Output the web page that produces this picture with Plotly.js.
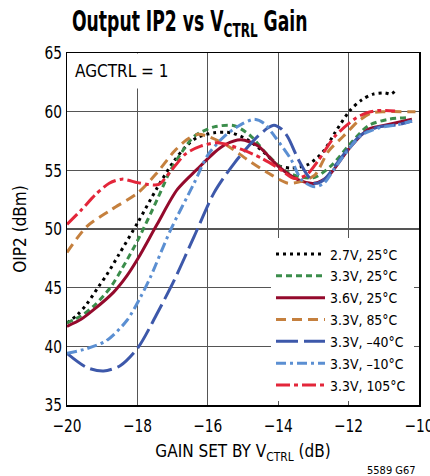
<!DOCTYPE html>
<html>
<head>
<meta charset="utf-8">
<script src="https://cdn.plot.ly/plotly-3.0.1.min.js"></script>
<style>
html,body{margin:0;padding:0;background:#fff;}
#chart{width:430px;height:476px;}
</style>
</head>
<body>
<div id="chart"></div>
<script>
// ---- Data ----
const seriesNames = ["2.7V, 25°C", "3.3V, 25°C", "3.6V, 25°C", "3.3V, 85°C", "3.3V, –40°C", "3.3V, –10°C", "3.3V, 105°C"];

const x27_25 = [-20, -19.7, -19.44, -19.1, -18.87, -18.53, -17.98, -17.44, -16.96, -16.6, -16.3, -15.82, -15.34, -14.87, -14.39, -14.0, -13.6, -13.15, -12.72, -12.39, -11.96, -11.63, -11.3, -10.97, -10.8, -10.66];
const y27_25 = [42.0, 42.7, 43.6, 45.1, 46.1, 47.8, 50.6, 53.5, 55.8, 57.1, 57.8, 58.2, 58.2, 57.6, 56.5, 55.4, 55.2, 55.5, 56.6, 58.2, 60.1, 61.0, 61.5, 61.6, 61.5, 61.8];

const x33_25 = [-20, -19.6, -19.25, -18.77, -18.44, -17.98, -17.44, -17.06, -16.68, -16.39, -15.82, -15.25, -14.77, -14.3, -13.72, -13.3, -12.96, -12.49, -12.0, -11.44, -10.87, -10.3];
const y33_25 = [42.0, 42.6, 43.4, 45.0, 46.6, 49.1, 52.5, 55.0, 56.8, 57.9, 58.7, 58.8, 57.9, 56.3, 54.8, 54.4, 54.4, 55.4, 57.1, 58.8, 59.35, 59.5];

const x36_25 = [-20, -19.6, -19.25, -18.68, -18.3, -17.98, -17.44, -16.87, -16.3, -15.82, -15.5, -15.06, -14.58, -14.0, -13.44, -12.96, -12.58, -12.0, -11.44, -10.87, -10.2];
const y36_25 = [41.7, 42.3, 43.1, 44.6, 46.0, 47.5, 50.4, 53.35, 55.1, 56.5, 57.2, 57.6, 57.1, 55.35, 54.2, 53.9, 54.5, 56.8, 58.5, 58.9, 59.35];

const x33_85 = [-20, -19.44, -18.77, -17.98, -17.44, -16.96, -16.6, -16.3, -16.0, -15.44, -14.87, -14.3, -13.72, -13.34, -12.96, -12.58, -12.15, -11.72, -11.34, -10.96, -10.49, -10.1];
const y33_85 = [48.0, 50.2, 51.6, 53.1, 54.8, 56.6, 57.6, 58.06, 57.9, 57.1, 55.9, 54.8, 53.9, 54.06, 54.6, 56.6, 57.9, 59.2, 59.9, 60.0, 60.0, 60.0];

const x33_m40 = [-20, -19.44, -18.96, -18.49, -17.98, -17.44, -16.96, -16.39, -15.82, -15.25, -14.68, -14.3, -14.12, -13.9, -13.72, -13.44, -13.15, -12.96, -12.7, -12.39, -12.0, -11.63, -11.15, -10.58, -10.2];
const y33_m40 = [39.4, 38.2, 37.9, 38.35, 39.9, 42.8, 45.6, 49.35, 53.1, 55.6, 57.6, 58.6, 58.85, 58.5, 57.8, 56.0, 54.5, 53.9, 54.2, 55.35, 56.9, 58.06, 58.7, 58.9, 59.2];

const x33_m10 = [-20, -19.44, -18.87, -18.3, -17.91, -17.63, -17.06, -16.39, -16.0, -15.53, -15.06, -14.68, -14.4, -14.1, -13.63, -13.34, -12.96, -12.7, -12.39, -12.0, -11.63, -11.15, -10.58, -10.2];
const y33_m10 = [39.4, 39.8, 40.5, 42.2, 44.2, 45.9, 49.9, 53.9, 56.3, 57.9, 58.9, 59.35, 59.0, 57.9, 55.9, 54.2, 53.6, 53.9, 55.2, 56.8, 58.0, 58.6, 58.9, 59.2];

const x33_105 = [-20, -19.6, -19.2, -18.8, -18.44, -18.0, -17.7, -17.39, -17.06, -16.63, -16.2, -15.72, -15.06, -14.49, -14.0, -13.54, -13.2, -12.87, -12.39, -11.82, -11.49, -11.15, -10.68];
const y33_105 = [50.4, 51.6, 52.9, 53.9, 54.25, 53.95, 53.8, 53.8, 54.9, 56.4, 57.06, 57.35, 56.8, 56.06, 55.2, 54.3, 54.6, 55.8, 57.9, 59.4, 59.9, 60.1, 60.06];

const xTickVals = [-20, -18, -16, -14, -12, -10];
const yTickVals = [35, 40, 45, 50, 55, 60, 65];

// ---- Styles ----
const FONT = "'DejaVu Sans Condensed', 'DejaVu Sans', sans-serif";
const styles = [
  {color: "#000000", dash: "3px,4px", width: 3},
  {color: "#3b8d4b", dash: "6px,4px", width: 3},
  {color: "#940a2c", dash: "solid", width: 3},
  {color: "#c5803e", dash: "10px,6px", width: 3},
  {color: "#3d58aa", dash: "22px,6px", width: 3},
  {color: "#5b8fd2", dash: "10px,4px,3px,4px", width: 3},
  {color: "#e3263a", dash: "14px,4px,4px,4px", width: 3}
];
const xs = [x27_25, x33_25, x36_25, x33_85, x33_m40, x33_m10, x33_105];
const ys = [y27_25, y33_25, y36_25, y33_85, y33_m40, y33_m10, y33_105];

const traces = xs.map((x, i) => ({
  type: "scatter", mode: "lines", x: x, y: ys[i], name: seriesNames[i],
  line: {color: styles[i].color, dash: styles[i].dash, width: styles[i].width, shape: "spline", smoothing: 0.8}
}));

const layout = {
  width: 430, height: 476,
  margin: {l: 67, r: 11, t: 53, b: 71},
  paper_bgcolor: "#fff", plot_bgcolor: "#fff",
  font: {family: FONT, size: 17, color: "#000"},
  title: {
    text: "Output IP2 vs V<sub>CTRL</sub> Gain",
    font: {family: FONT, size: 29, weight: "bold", color: "#000"},
    xref: "container", x: 72/430, xanchor: "left",
    yref: "container", y: 1 - 21/476, yanchor: "middle"
  },
  xaxis: {
    range: [-20, -10], tickvals: xTickVals, ticks: "", ticklabelstandoff: 4,
    ticklabeloverflow: "allow",
    showgrid: true, gridcolor: "#555", gridwidth: 1.2,
    showline: true, linecolor: "#000", linewidth: 1.5, mirror: true,
    zeroline: false, tickfont: {size: 18},
    title: {text: "GAIN SET BY V<sub>CTRL</sub> (dB)", font: {size: 17}, standoff: 10}
  },
  yaxis: {
    range: [35, 65], tickvals: yTickVals, ticks: "",
    showgrid: true, gridcolor: "#555", gridwidth: 1.2,
    showline: true, linecolor: "#000", linewidth: 1.5, mirror: true,
    zeroline: false, tickfont: {size: 18},
    title: {text: "OIP2 (dBm)", font: {size: 17}, standoff: 10}
  },
  legend: {
    x: (271-67)/352, y: (405-238)/352, xanchor: "left", yanchor: "top",
    bgcolor: "#fff", borderwidth: 0, font: {size: 14.5}, itemwidth: 49,
    tracegroupgap: 0
  },
  showlegend: true,
  annotations: [
    {text: "AGCTRL = 1", xref: "paper", yref: "paper", x: 0, y: 1, xanchor: "left", yanchor: "top",
     showarrow: false, bgcolor: "#fff", borderpad: 7, font: {size: 17}},
    {text: "5589 G67", xref: "paper", yref: "paper", x: (418-67)/352, y: (405-470)/352,
     xanchor: "right", yanchor: "middle", showarrow: false, font: {size: 11}}
  ]
};

// Narrow the text horizontally about its anchor point (reference uses a condensed face)
function condense(selector, s) {
  document.querySelectorAll(selector).forEach(t => {
    const x = parseFloat(t.getAttribute("x")) || 0;
    const prev = t.getAttribute("transform") || "";
    t.setAttribute("transform", prev + " translate(" + x + ",0) scale(" + s + ",1) translate(" + (-x) + ",0)");
  });
}

Plotly.newPlot("chart", traces, layout, {displayModeBar: false, staticPlot: true}).then(() => {
  condense("#chart .gtitle", 0.66);
  condense("#chart .legendtext", 0.96);
  condense("#chart .xtick text, #chart .ytick text", 0.85);
});
</script>
</body>
</html>
